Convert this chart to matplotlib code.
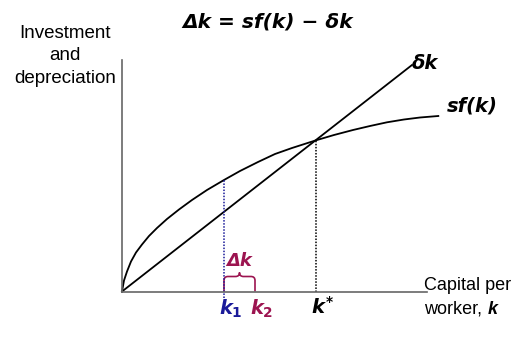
import matplotlib
matplotlib.use("Agg")
import matplotlib.pyplot as plt
from matplotlib.path import Path
from matplotlib.patches import PathPatch

plt.rcParams['mathtext.fontset'] = 'custom'
plt.rcParams['mathtext.it'] = 'DejaVu Sans:italic:bold'
plt.rcParams['mathtext.rm'] = 'DejaVu Sans:bold'

# saving curve sf(k), read along its length
k_sf = [0, 2, 5, 9, 14, 20, 27, 35, 45, 57, 70, 85, 102, 118, 136, 153, 170,
        194, 212, 231, 248, 265, 282, 298, 316.3]
sf_k = [0, 11, 20, 30, 39, 47, 55.5, 63.5, 72.5, 82, 91.5, 101.5, 111.5, 120.5, 129.5, 137.5, 143.5,
        151.2, 156.5, 161.5, 165.5, 169.2, 172, 174, 175.5]

# depreciation line delta*k (end points)
k_dep = [0, 290]
dep_k = [0, 226.5]

k1, sf_k1 = 102, 111.5
k2 = 133
k_star, sf_star = 193.7, 151.2

blue = '#1a1a99'
crimson = '#9c1450'
grey = '#666666'

fig = plt.figure(figsize=(5.21, 3.42), dpi=100)
ax = fig.add_axes([122/521, 50.5/342, 305/521, 231.5/342])
ax.set_xlim(0, 305)
ax.set_ylim(0, 231.5)
for side in ['top', 'right']:
    ax.spines[side].set_visible(False)
for side in ['left', 'bottom']:
    ax.spines[side].set_color(grey)
    ax.spines[side].set_linewidth(1.2)
ax.set_xticks([])
ax.set_yticks([])

ax.plot(k_sf, sf_k, color='black', lw=1.3, clip_on=False, solid_joinstyle='round')
ax.plot(k_dep, dep_k, color='black', lw=1.3, clip_on=False)

# dotted guides
ax.plot([k1, k1], [-6, sf_k1], color=blue, lw=1.1, ls=(0, (1, 1)), clip_on=False)
ax.plot([k_star, k_star], [0, sf_star], color='black', lw=1.1, ls=(0, (1, 1)), clip_on=False)

# curly brace from k1 to k2
h, r = 15, 4
mid = (k1 + k2) / 2
verts = [(k1, 0), (k1, h - r), (k1, h), (k1 + r, h), (mid - r, h), (mid, h), (mid, h + r),
         (mid, h), (mid + r, h), (k2 - r, h), (k2, h), (k2, h - r), (k2, 0)]
codes = [Path.MOVETO, Path.LINETO, Path.CURVE3, Path.CURVE3, Path.LINETO, Path.CURVE3, Path.CURVE3,
         Path.CURVE3, Path.CURVE3, Path.LINETO, Path.CURVE3, Path.CURVE3, Path.LINETO]
ax.add_patch(PathPatch(Path(verts, codes), fill=False, edgecolor=crimson, lw=1.2, clip_on=False))

bi = dict(family='DejaVu Sans', weight='bold', style='oblique')
ax.text(mid, 30, 'Δk', color=crimson, fontsize=13, ha='center', va='center', **bi)
ax.text(290, 228, 'δk', color='black', fontsize=14, ha='left', va='center', **bi)
ax.text(325, 185, 'sf(k)', color='black', fontsize=14, ha='left', va='center', **bi)

ax.text(k1 + 7, -17, r'$k_{\mathit{1}}$', color=blue, fontsize=14, ha='center', va='center', clip_on=False)
ax.text(k2 + 7, -17, r'$k_{\mathit{2}}$', color=crimson, fontsize=14, ha='center', va='center', clip_on=False)
ax.text(k_star + 7, -15, r'$k^{*}$', color='black', fontsize=14, ha='center', va='center', clip_on=False)

fig.text(268/521, 1 - 22/342, 'Δk = sf(k) − δk', fontsize=14.5, ha='center', va='center', **bi)

fig.text(65/521, 1 - 56/342, 'Investment\nand\ndepreciation', family='Liberation Sans',
         fontsize=13.5, ha='center', va='center', linespacing=1.45)
fig.text(424/521, 1 - 285/342, 'Capital per', family='Liberation Sans', fontsize=13, ha='left', va='center')
fig.text(424/521, 1 - 309/342, 'worker,', family='Liberation Sans', fontsize=13, ha='left', va='center')
fig.text(488/521, 1 - 309/342, 'k', family='Liberation Sans', weight='bold', style='italic',
         fontsize=13, ha='left', va='center')

fig.savefig('out.png', dpi=100)
